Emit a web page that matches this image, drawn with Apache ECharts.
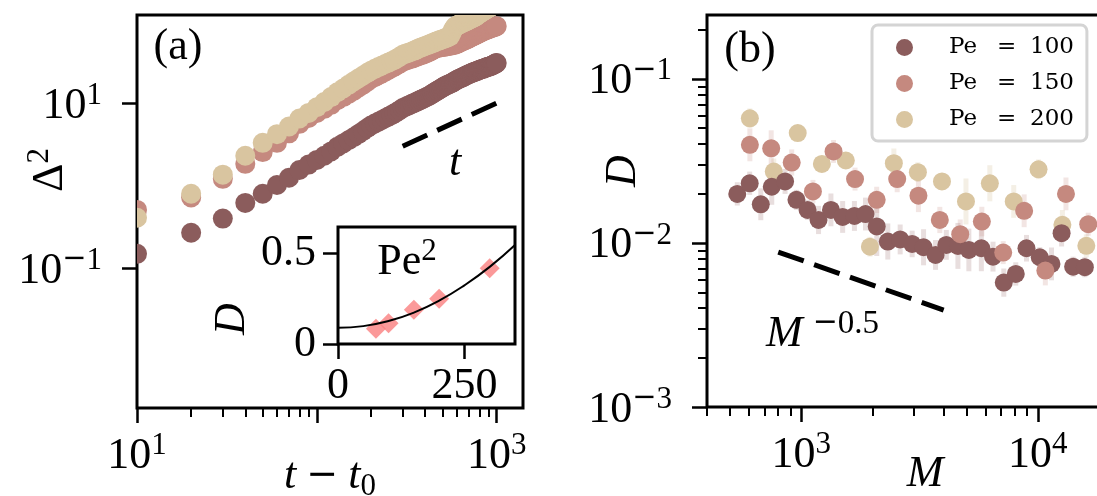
<!DOCTYPE html>
<html>
<head>
<meta charset="utf-8">
<title>Diffusion panels</title>
<script src="https://cdn.jsdelivr.net/npm/echarts@6.0.0/dist/echarts.min.js"></script>
<style>
  html, body { margin: 0; padding: 0; background: #ffffff; }
  #chart { width: 1097px; height: 496px; }
</style>
</head>
<body>
<div id="chart"></div>
<script>
// ---- panel (a): Delta^2 against t - t0 ----
const lagTime = [
  10, 20, 30, 40, 50, 60, 70, 80, 90, 100,
  110, 120, 130, 140, 150, 160, 170, 180, 190, 200,
  210, 220, 230, 240, 250, 260, 270, 280, 290, 300,
  310, 320, 330, 340, 350, 360, 370, 380, 390, 400,
  410, 420, 430, 440, 450, 460, 470, 480, 490, 500,
  510, 520, 530, 540, 550, 560, 570, 580, 590, 600,
  610, 620, 630, 640, 650, 660, 670, 680, 690, 700,
  710, 720, 730, 740, 750, 760, 770, 780, 790, 800,
  810, 820, 830, 840, 850, 860, 870, 880, 890, 900,
  910, 920, 930, 940, 950, 960, 970, 980, 990, 1000
];
const msdPe100 = [
  0.15, 0.27, 0.40, 0.62, 0.80, 1.02, 1.25, 1.55, 1.80, 2.05,
  2.30, 2.60, 2.95, 3.25, 3.55, 3.85, 4.20, 4.55, 4.95, 5.35,
  5.65, 5.95, 6.25, 6.55, 6.85, 7.15, 7.50, 7.85, 8.25, 8.70,
  8.95, 9.25, 9.55, 9.85, 10.1, 10.4, 10.7, 11.0, 11.3, 11.6,
  11.9, 12.2, 12.6, 13.0, 13.4, 13.8, 14.2, 14.6, 15.0, 15.4,
  15.8, 16.2, 16.5, 16.8, 17.1, 17.4, 17.8, 18.2, 18.6, 19.0,
  19.4, 19.7, 20.0, 20.3, 20.6, 21.0, 21.4, 21.7, 22.0, 22.3,
  22.6, 22.9, 23.2, 23.5, 23.8, 24.0, 24.2, 24.5, 24.8, 25.1,
  25.4, 25.6, 25.8, 26.0, 26.2, 26.5, 26.8, 27.1, 27.3, 27.5,
  27.7, 27.9, 28.1, 28.4, 28.7, 29.0, 29.4, 29.8, 30.2, 30.5
];
const msdPe150 = [
  0.51, 0.72, 1.21, 1.84, 2.55, 3.30, 4.30, 5.60, 6.60, 7.60,
  8.50, 9.50, 10.8, 11.8, 12.9, 14.0, 15.3, 16.6, 18.0, 19.6,
  20.6, 21.7, 22.8, 24.0, 25.2, 26.4, 27.6, 28.8, 30.2, 31.6,
  32.4, 33.1, 33.9, 34.7, 35.5, 36.3, 37.1, 37.9, 38.7, 39.5,
  40.4, 41.3, 42.4, 43.5, 44.8, 46.0, 46.6, 47.0, 47.3, 47.6,
  47.9, 48.2, 48.6, 49.0, 49.4, 49.8, 50.2, 50.6, 51.0, 51.8,
  52.7, 53.6, 54.5, 55.4, 56.2, 57.0, 57.9, 58.8, 59.7, 60.5,
  61.5, 62.5, 63.4, 64.4, 65.3, 66.2, 67.1, 68.0, 69.0, 70.0,
  71.0, 72.0, 73.0, 73.8, 74.6, 75.4, 76.2, 77.0, 77.8, 78.5,
  79.2, 79.9, 80.6, 81.3, 82.0, 82.6, 83.2, 83.8, 84.4, 85.0
];
const msdPe200 = [
  0.41, 0.80, 1.36, 2.30, 3.30, 4.20, 5.20, 6.50, 7.60, 8.90,
  10.3, 11.8, 13.5, 15.0, 16.6, 18.2, 19.8, 21.4, 23.0, 24.6,
  25.9, 27.2, 28.4, 29.6, 30.8, 32.0, 33.3, 34.8, 36.5, 38.4,
  39.3, 40.2, 41.2, 42.3, 43.4, 44.6, 46.0, 47.0, 48.0, 49.0,
  50.0, 51.0, 52.0, 53.1, 54.2, 55.5, 56.4, 57.3, 58.2, 59.1,
  60.0, 61.0, 62.0, 63.2, 64.5, 70.0, 76.0, 81.0, 85.0, 86.5,
  88.0, 89.5, 91.0, 92.5, 94.0, 95.5, 97.0, 98.5, 100, 101.5,
  103, 104.5, 106, 107.5, 109, 111, 113, 116, 118, 121,
  123, 125, 127, 129, 131, 133, 135, 137, 139, 141,
  143, 145, 147, 149, 151, 153, 155, 157, 159, 161
];
// guide line ~ t
const guideT_x = [300, 1000];
const guideT_y = [3.0, 10.0];

// inset: D against Pe with Pe^2 fit
const insetPe = [75, 100, 150, 200, 300];
const insetD = [0.084, 0.115, 0.19, 0.25, 0.42];
const fitPe = [0, 50, 100, 150, 200, 250, 300, 350];
const fitD = [0.090, 0.099, 0.127, 0.174, 0.240, 0.325, 0.427, 0.548];

// ---- panel (b): D against M (errors as half-width in log10) ----
const mPe100 = [537, 606, 675, 751, 855, 955, 1064, 1184, 1336, 1497, 1679, 1870, 2086, 2323, 2620, 2944,
  3290, 3697, 4105, 4596, 5112, 5773, 6467, 7180, 8070, 8955, 10190, 11420, 12600, 14100, 15800];
const dPe100 = [0.0199, 0.0231, 0.0172, 0.0220, 0.0237, 0.0183, 0.0159, 0.0138, 0.0159, 0.0144, 0.0146,
  0.0150, 0.0126, 0.0102, 0.0105, 0.00986, 0.00941, 0.00845, 0.00973, 0.00959, 0.00906, 0.00928, 0.00825,
  0.00573, 0.00647, 0.00928, 0.00818, 0.00745, 0.01146, 0.00716, 0.00711];
const errPe100 = [0.071, 0.071, 0.097, 0.11, 0.076, 0.061, 0.061, 0.086, 0.10, 0.097, 0.091, 0.10, 0.18,
  0.11, 0.091, 0.081, 0.11, 0.091, 0.091, 0.14, 0.13, 0.14, 0.091, 0.086, 0.071, 0.081, 0.061, 0.10,
  0.081, 0.061, 0.061];

const mPe150 = [607, 747, 912, 1121, 1370, 1689, 2085, 2545, 3130, 3853, 4700, 5800, 7140, 8755, 10760, 13150, 16330];
const dPe150 = [0.0396, 0.0377, 0.0309, 0.0206, 0.0361, 0.0245, 0.0183, 0.0245, 0.0194, 0.0138, 0.0113,
  0.0135, 0.00873, 0.0157, 0.00678, 0.0199, 0.0130];
const errPe150 = [0.10, 0.11, 0.08, 0.07, 0.07, 0.07, 0.08, 0.08, 0.10, 0.08, 0.09, 0.09, 0.07, 0.10, 0.09, 0.10, 0.07];

const mPe200 = [607, 766, 967, 1223, 1544, 1952, 2464, 3113, 3935, 4970, 6270, 7910, 10070, 12700, 16030];
const dPe200 = [0.0575, 0.0272, 0.0467, 0.0303, 0.0318, 0.00948, 0.0306, 0.0270, 0.0237, 0.0179, 0.0231,
  0.0179, 0.0281, 0.0129, 0.0096];
const errPe200 = [0.06, 0.08, 0.04, 0.05, 0.05, 0.06, 0.09, 0.06, 0.05, 0.14, 0.11, 0.10, 0.06, 0.09, 0.07];

// guide line ~ M^-0.5
const guideM_x = [800, 4000];
const guideM_y = [0.0088, 0.0039];

// ticks
const aMajorX = [10, 100, 1000];
const aLabelX = [10, 1000];
const aMinorX = [20, 30, 40, 50, 60, 70, 80, 90, 200, 300, 400, 500, 600, 700, 800, 900];
const aLabelY = [0.1, 10];
const bMajorX = [1000, 10000];
const bMinorX = [400, 500, 600, 700, 800, 900, 2000, 3000, 4000, 5000, 6000, 7000, 8000, 9000, 20000];
const bMajorY = [0.001, 0.01, 0.1];
const bMinorY = [0.002, 0.003, 0.004, 0.005, 0.006, 0.007, 0.008, 0.009,
  0.02, 0.03, 0.04, 0.05, 0.06, 0.07, 0.08, 0.09, 0.2];
const insetTickX = [0, 250];
const insetTickY = [0, 0.5];

const COLORS = { 100: '#8b5c5c', 150: '#c5897f', 200: '#d9c5a0' };
const BAR_COLORS = { 100: 'rgba(139,92,92,0.2)', 150: 'rgba(197,137,127,0.22)', 200: 'rgba(217,197,160,0.28)' };
const SERIF = 'Liberation Serif';

// b = base text, s = superscript, m = long minus inside a superscript
const rich = {
  b: { fontFamily: SERIF, fontSize: 44, lineHeight: 52, color: '#000' },
  s: { fontFamily: SERIF, fontSize: 31, lineHeight: 30, verticalAlign: 'top', color: '#000' },
  m: { fontFamily: 'DejaVu Sans', fontSize: 29, lineHeight: 30, verticalAlign: 'top', color: '#000' },
  mm: { fontFamily: 'DejaVu Sans', fontSize: 30, lineHeight: 30, verticalAlign: 'top', padding: [0, 0, 0, 10], color: '#000' },
  ss: { fontFamily: SERIF, fontSize: 33, lineHeight: 30, verticalAlign: 'top', color: '#000' },
  i: { fontFamily: SERIF, fontStyle: 'italic', fontSize: 44, lineHeight: 52, color: '#000' },
  op: { fontFamily: 'DejaVu Sans', fontSize: 38, lineHeight: 52, padding: [0, 10, 0, 10], color: '#000' },
  sub: { fontFamily: SERIF, fontSize: 31, lineHeight: 30, verticalAlign: 'bottom', color: '#000' }
};

function powLabel(v) {
  const e = Math.round(Math.log10(v));
  return e < 0 ? '{b|10}{m|\u2212}{s|' + (-e) + '}' : '{b|10}{s|' + e + '}';
}

const tickStyle = { color: '#000', width: 2.5 };

function mainAxis(o) {
  return Object.assign({
    axisLine: { show: false },
    splitLine: { show: false },
    axisTick: { length: 15, lineStyle: tickStyle, customValues: o.ticks },
    axisLabel: { customValues: o.labels, formatter: powLabel, rich: rich, margin: o.margin, padding: o.padding || 0 }
  }, o.base);
}

function minorAxis(o) {
  return Object.assign({
    axisLine: { show: false },
    splitLine: { show: false },
    axisLabel: { show: false },
    axisTick: { length: 9, lineStyle: { color: '#000', width: 2 }, customValues: o.ticks }
  }, o.base);
}

function dots(name, xs, ys, color) {
  return {
    name: name,
    type: 'custom',
    xAxisIndex: 0,
    yAxisIndex: 0,
    clip: true,
    encode: { x: 0, y: 1 },
    data: xs.map((x, i) => [x, ys[i]]),
    renderItem: (params, api) => {
      const p = api.coord([api.value(0), api.value(1)]);
      return { type: 'circle', shape: { cx: p[0], cy: p[1], r: 10 }, style: { fill: color } };
    }
  };
}

function errorBars(xs, ys, errs, color) {
  return {
    type: 'custom',
    xAxisIndex: 2,
    yAxisIndex: 1,
    clip: true,
    encode: { x: 0, y: 1 },
    data: xs.map((x, i) => [x, ys[i], errs[i]]),
    renderItem: (params, api) => {
      const f = Math.pow(10, api.value(2));
      const lo = api.coord([api.value(0), api.value(1) / f]);
      const hi = api.coord([api.value(0), api.value(1) * f]);
      return { type: 'line', shape: { x1: lo[0], y1: lo[1], x2: hi[0], y2: hi[1] }, style: { stroke: color, lineWidth: 5 } };
    }
  };
}

function points(name, xs, ys, color) {
  return {
    name: name,
    type: 'scatter',
    xAxisIndex: 2,
    yAxisIndex: 1,
    symbolSize: 18,
    itemStyle: { color: color, opacity: 1 },
    emphasis: { disabled: true },
    data: xs.map((x, i) => [x, ys[i]])
  };
}

function label(x, y, text, extra) {
  return Object.assign({
    type: 'text', x: x, y: y, z: 100,
    style: { text: text, rich: rich, align: (extra && extra.align) || 'center', verticalAlign: 'middle', fill: '#000',
      font: '44px "Liberation Serif"' }
  }, extra || {});
}

const chart = echarts.init(document.getElementById('chart'), null, { renderer: 'canvas' });

const option = {
  animation: false,
  backgroundColor: '#ffffff',
  grid: [
    { left: 137, top: 15, width: 386, height: 393, show: true, borderColor: '#000', borderWidth: 3,
      backgroundColor: 'transparent', outerBoundsMode: 'none' },
    { left: 707, top: 15, width: 425, height: 392, show: true, borderColor: '#000', borderWidth: 3,
      backgroundColor: 'transparent', outerBoundsMode: 'none' },
    { left: 338, top: 227, width: 177, height: 117, show: true, borderColor: '#000', borderWidth: 3,
      backgroundColor: '#fff', outerBoundsMode: 'none' }
  ],
  xAxis: [
    mainAxis({ ticks: aMajorX, labels: aLabelX, margin: 22,
      base: { type: 'log', gridIndex: 0, min: 10, max: 1400, position: 'bottom' } }),
    minorAxis({ ticks: aMinorX, base: { type: 'log', gridIndex: 0, min: 10, max: 1400, position: 'bottom' } }),
    mainAxis({ ticks: bMajorX, labels: bMajorX, margin: 22,
      base: { type: 'log', gridIndex: 1, min: 400, max: 25000, position: 'bottom' } }),
    minorAxis({ ticks: bMinorX, base: { type: 'log', gridIndex: 1, min: 400, max: 25000, position: 'bottom' } }),
    {
      type: 'value', gridIndex: 2, min: 0, max: 350, position: 'bottom',
      axisLine: { show: false, onZero: false }, splitLine: { show: false },
      axisTick: { length: 15, lineStyle: tickStyle, customValues: insetTickX },
      axisLabel: { customValues: insetTickX, fontFamily: SERIF, fontSize: 44, color: '#000', margin: 20 }
    }
  ],
  yAxis: [
    mainAxis({ ticks: aLabelY, labels: aLabelY, margin: 35, padding: [6, 0, 0, 0],
      base: { type: 'log', gridIndex: 0, min: 0.00205, max: 116, position: 'left' } }),
    mainAxis({ ticks: bMajorY, labels: bMajorY, margin: 35, padding: [6, 0, 0, 0],
      base: { type: 'log', gridIndex: 1, min: 0.001, max: 0.245, position: 'left' } }),
    minorAxis({ ticks: bMinorY, base: { type: 'log', gridIndex: 1, min: 0.001, max: 0.245, position: 'left' } }),
    {
      type: 'value', gridIndex: 2, min: 0, max: 0.648, position: 'left',
      axisLine: { show: false, onZero: false }, splitLine: { show: false },
      axisTick: { length: 15, lineStyle: tickStyle, customValues: insetTickY },
      axisLabel: { customValues: insetTickY, fontFamily: SERIF, fontSize: 44, color: '#000', margin: 22 }
    }
  ],
  legend: {
    data: ['Pe = 100', 'Pe = 150', 'Pe = 200'],
    orient: 'vertical',
    left: 872,
    top: 25,
    padding: [11, 13, 10, 24],
    itemGap: 13,
    itemWidth: 17,
    itemHeight: 17,
    icon: 'circle',
    selectedMode: false,
    backgroundColor: '#fff',
    borderColor: '#d4d4d4',
    borderWidth: 3,
    borderRadius: 6,
    z: 50,
    formatter: name => '{p|Pe}{e|=}{n|' + name.split('= ')[1] + '}',
    textStyle: {
      rich: {
        p: { fontFamily: 'DejaVu Serif', fontSize: 23, lineHeight: 24, width: 48, padding: [0, 0, 0, 31], color: '#000' },
        e: { fontFamily: 'DejaVu Serif', fontSize: 23, lineHeight: 24, width: 33, color: '#000' },
        n: { fontFamily: 'DejaVu Serif', fontSize: 23, lineHeight: 24, color: '#000' }
      }
    }
  },
  series: [
    dots('a100', lagTime, msdPe100, COLORS[100]),
    dots('a150', lagTime, msdPe150, COLORS[150]),
    dots('a200', lagTime, msdPe200, COLORS[200]),
    {
      type: 'line', xAxisIndex: 0, yAxisIndex: 0, symbol: 'none', z: 5,
      data: guideT_x.map((x, i) => [x, guideT_y[i]]),
      lineStyle: { color: '#000', width: 5, type: [27, 11] }
    },
    {
      type: 'scatter', xAxisIndex: 4, yAxisIndex: 3, symbol: 'diamond', symbolSize: 20,
      itemStyle: { color: '#fa8080' }, z: 4,
      data: insetPe.map((x, i) => [x, insetD[i]])
    },
    {
      type: 'line', xAxisIndex: 4, yAxisIndex: 3, symbol: 'none', smooth: true, z: 5,
      data: fitPe.map((x, i) => [x, fitD[i]]),
      lineStyle: { color: '#000', width: 2 }
    },
    errorBars(mPe200, dPe200, errPe200, BAR_COLORS[200]),
    errorBars(mPe100, dPe100, errPe100, BAR_COLORS[100]),
    errorBars(mPe150, dPe150, errPe150, BAR_COLORS[150]),
    points('Pe = 200', mPe200, dPe200, COLORS[200]),
    points('Pe = 100', mPe100, dPe100, COLORS[100]),
    points('Pe = 150', mPe150, dPe150, COLORS[150]),
    {
      type: 'line', xAxisIndex: 2, yAxisIndex: 1, symbol: 'none', z: 5,
      data: guideM_x.map((x, i) => [x, guideM_y[i]]),
      lineStyle: { color: '#000', width: 5, type: [27, 11] }
    }
  ],
  graphic: [
    label(178, 47, '{b|(a)}'),
    label(750, 50, '{b|(b)}'),
    label(455, 163, '{i|t}'),
    label(407, 262, '{b|Pe}{s|2}'),
    label(766, 334, '{i|M}{mm|\u2212}{ss|0.5}', { align: 'left' }),
    label(50, 170, '{b|\u0394}{s|2}', { rotation: Math.PI / 2 }),
    label(330, 476, '{i|t}{op|\u2212}{i|t}{sub|0}'),
    label(232, 319, '{i|D}', { rotation: Math.PI / 2 }),
    label(623, 171, '{i|D}', { rotation: Math.PI / 2 }),
    label(925, 474, '{i|M}')
  ]
};

chart.setOption(option);
window.addEventListener('resize', () => chart.resize());
</script>
</body>
</html>
